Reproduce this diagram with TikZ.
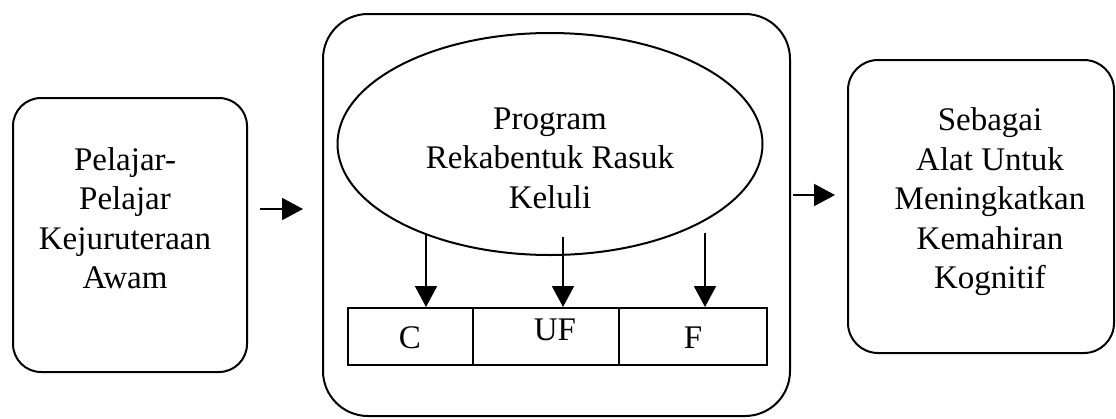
\documentclass[tikz,border=0pt]{standalone}
\usepackage{fontspec}
\setmainfont{Liberation Serif}
\usetikzlibrary{arrows.meta,shapes.geometric}
\begin{document}
\begin{tikzpicture}[x=1pt,y=-1pt,
  frame/.style={draw,line width=2pt,rounded corners=#1,inner sep=0pt},
  txt/.style={align=center,font=\fontsize{33}{39.5}\selectfont,inner sep=0pt},
  cell/.style={draw,line width=2pt,inner sep=0pt,minimum height=57pt},
  arr/.style={line width=2pt,-{Triangle[width=22pt,length=21pt]}}]
\useasboundingbox (0,0) rectangle (1116,418);
% boxes
\node[frame=28pt,minimum width=234pt,minimum height=274pt] (lbox) at (130,235) {};
\node[frame=45pt,minimum width=467pt,minimum height=402pt] (mbox) at (556.5,215) {};
\node[frame=30pt,minimum width=266pt,minimum height=293pt] (rbox) at (981,206.5) {};
% ellipse
\node[draw,line width=2pt,ellipse,minimum width=425pt,minimum height=222pt,inner sep=0pt] (ell) at (550,144) {};
% texts
\node[txt] (ltxt) at (125,218) {Pelajar-\\Pelajar\\Kejuruteraan\\Awam};
\node[txt] (etxt) at (550,158) {Program\\Rekabentuk Rasuk\\Keluli};
\node[txt] (rtxt) at (990,202) {Sebagai\\Alat Untuk\\Meningkatkan\\Kemahiran\\Kognitif};
% bar cells
\node[cell,minimum width=125pt] (cC) at (410.5,336.5) {};
\node[cell,minimum width=146pt] (cUF) at (546,336.5) {};
\node[cell,minimum width=148pt] (cF) at (693,336.5) {};
\node[txt] (tC) at (410,338) {C};
\node[txt] (tUF) at (555,330) {UF};
\node[txt] (tF) at (693,338) {F};
% arrows
\coordinate (a1s) at (260,209);
\coordinate (a1e) at (303,209);
\coordinate (a2s) at (793,195);
\coordinate (a2e) at (835,195);
\draw[arr] (a1s) -- (a1e);
\draw[arr] (a2s) -- (a2e);
\coordinate (d1) at (426,234);
\coordinate (d2) at (563,237);
\coordinate (d3) at (705,233);
\draw[arr] (d1) -- (d1 |- cC.north);
\draw[arr] (d2) -- (d2 |- cUF.north);
\draw[arr] (d3) -- (d3 |- cF.north);
\end{tikzpicture}
\end{document}
